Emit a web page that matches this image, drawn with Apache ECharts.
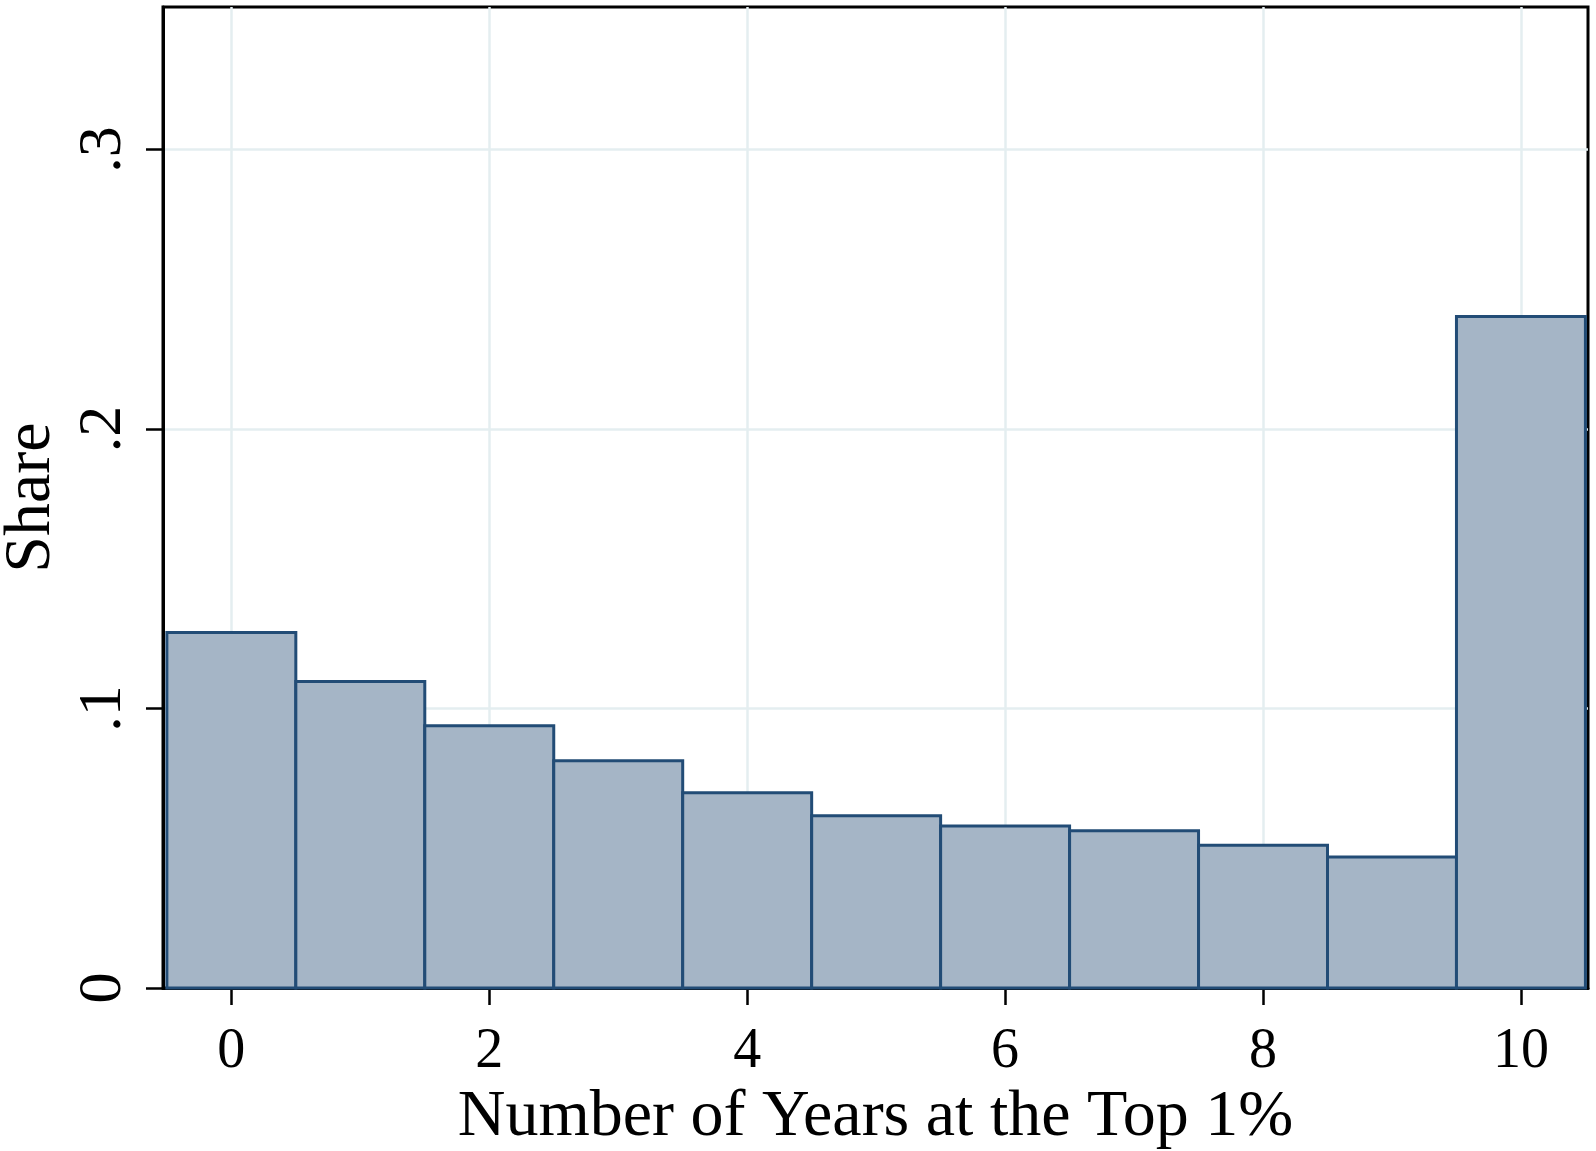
<!DOCTYPE html>
<html>
<head>
<meta charset="utf-8">
<script src="https://cdn.jsdelivr.net/npm/echarts@6/dist/echarts.min.js"></script>
<style>
html,body{margin:0;padding:0;background:#fff;}
#chart{width:1596px;height:1151px;}
</style>
</head>
<body>
<div id="chart"></div>
<script>
const years = [0, 1, 2, 3, 4, 5, 6, 7, 8, 9, 10];
const shares = [0.1272, 0.1097, 0.0938, 0.0813, 0.0699, 0.0616, 0.0580, 0.0563, 0.0511, 0.0469, 0.2403];
const xTicks = [0, 2, 4, 6, 8, 10];
const xTickLabels = ['0', '2', '4', '6', '8', '10'];
const yTicks = [0, 0.1, 0.2, 0.3];
const yTickLabels = ['0', '.1', '.2', '.3'];
const xTitle = 'Number of Years at the Top 1%';
const yTitle = 'Share';

const FONT = "'Liberation Serif', 'Times New Roman', serif";
const chart = echarts.init(document.getElementById('chart'), null, {renderer: 'canvas'});

function lookup(vals, labels, v) {
  for (let i = 0; i < vals.length; i++) {
    if (Math.abs(vals[i] - v) < 1e-9) return labels[i];
  }
  return '';
}

const option = {
  animation: false,
  backgroundColor: '#ffffff',
  grid: {
    left: 163, right: 8, top: 7, bottom: 163,
    containLabel: false,
    outerBoundsMode: 'none',
    show: true, borderColor: '#000000', borderWidth: 3, backgroundColor: 'transparent'
  },
  xAxis: {
    type: 'value',
    min: -0.53, max: 10.52,
    name: xTitle,
    nameLocation: 'middle',
    nameGap: 77,
    nameTextStyle: {fontFamily: FONT, fontSize: 66, color: '#000'},
    axisLine: {show: true, onZero: false, lineStyle: {color: '#000', width: 3}},
    axisTick: {show: true, customValues: xTicks, length: 17, lineStyle: {color: '#000', width: 2.5}},
    axisLabel: {
      customValues: xTicks,
      fontFamily: FONT, fontSize: 56, color: '#000', margin: 36,
      formatter: v => lookup(xTicks, xTickLabels, v)
    },
    splitLine: {show: true, lineStyle: {color: '#e4eef0', width: 2.5}}
  },
  yAxis: {
    type: 'value',
    min: 0, max: 0.351,
    name: yTitle,
    nameLocation: 'middle',
    nameGap: 91,
    nameRotate: 90,
    nameTextStyle: {fontFamily: FONT, fontSize: 66, color: '#000'},
    axisLine: {show: true, onZero: false, lineStyle: {color: '#000', width: 3}},
    axisTick: {show: true, customValues: yTicks, length: 17, lineStyle: {color: '#000', width: 2.5}},
    axisLabel: {
      customValues: yTicks,
      rotate: 90,
      fontFamily: FONT, fontSize: 62, color: '#000', margin: 28,
      formatter: v => lookup(yTicks, yTickLabels, v)
    },
    splitLine: {show: true, lineStyle: {color: '#e4eef0', width: 2.5}}
  },
  series: [{
    type: 'custom',
    data: years.map((y, i) => [y, shares[i]]),
    encode: {x: 0, y: 1},
    renderItem: function (params, api) {
      const x = api.value(0), v = api.value(1);
      const p0 = api.coord([x - 0.5, v]);
      const p1 = api.coord([x + 0.5, 0]);
      return {
        type: 'rect',
        shape: {x: p0[0], y: p0[1], width: p1[0] - p0[0], height: p1[1] - p0[1]},
        style: {fill: '#a5b5c6', stroke: '#224c76', lineWidth: 3}
      };
    }
  }]
};
chart.setOption(option);
</script>
</body>
</html>
